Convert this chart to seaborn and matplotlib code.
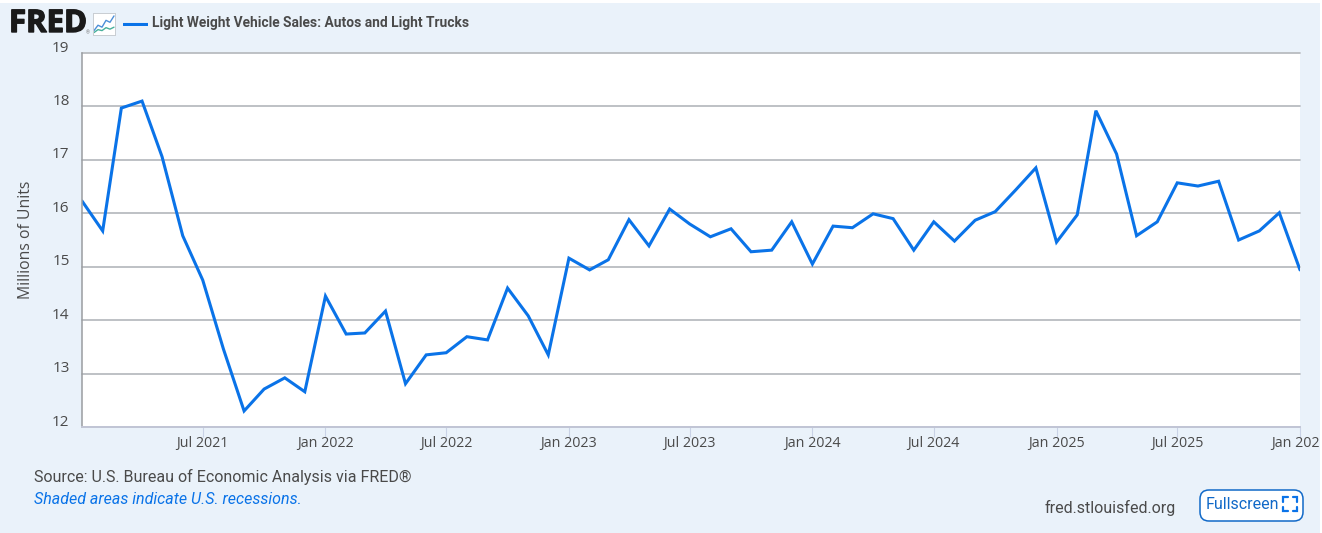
import matplotlib
matplotlib.use("Agg")
import matplotlib.pyplot as plt
import matplotlib.patheffects as pe
from matplotlib.lines import Line2D
from matplotlib.patches import FancyBboxPatch, Rectangle
from matplotlib.transforms import ScaledTranslation
import pandas as pd
import seaborn as sns

W, H = 1322, 533
start_month = "2021-01-01"
sales = [16.23, 15.67, 17.97, 18.10, 17.06, 15.58, 14.75, 13.46, 12.30, 12.71, 12.92, 12.66,
         14.45, 13.74, 13.76, 14.17, 12.81, 13.35, 13.39, 13.69, 13.63, 14.60, 14.08, 13.35,
         15.16, 14.94, 15.13, 15.88, 15.39, 16.08, 15.80, 15.56, 15.71, 15.28, 15.31, 15.84,
         15.05, 15.76, 15.73, 15.99, 15.90, 15.31, 15.84, 15.48, 15.87, 16.03, 16.44, 16.85,
         15.46, 15.97, 17.92, 17.11, 15.58, 15.84, 16.57, 16.51, 16.60, 15.50, 15.67, 16.01,
         14.94]
y_ticks = [12, 13, 14, 15, 16, 17, 18, 19]
x_tick_dates = ["2021-07-01", "2022-01-01", "2022-07-01", "2023-01-01", "2023-07-01", "2024-01-01",
                "2024-07-01", "2025-01-01", "2025-07-01", "2026-01-01"]
x_tick_labels = ["Jul 2021", "Jan 2022", "Jul 2022", "Jan 2023", "Jul 2023", "Jan 2024",
                 "Jul 2024", "Jan 2025", "Jul 2025", "Jan 2026"]
series_name = "Light Weight Vehicle Sales: Autos and Light Trucks"
y_label = "Millions of Units"
source_text = "Source: U.S. Bureau of Economic Analysis via FRED®"
shade_text = "Shaded areas indicate U.S. recessions."
site_text = "fred.stlouisfed.org"
button_text = "Fullscreen"
icon_a = [0.9, 2.0, 1.6, 3.0, 2.6, 3.9]
icon_b = [0.5, 1.1, 0.9, 1.5, 1.2, 1.6]

BG = "#EAF2FA"; BLUE = "#0A73E8"; TXT = "#4A4A4A"; GRID = "#B9BCC0"
sns.set_theme(style="white", font="Roboto")
plt.rcParams["font.family"] = ["Roboto", "DejaVu Sans"]

df = pd.DataFrame({"date": pd.date_range(start_month, periods=len(sales), freq="MS"), "value": sales})

fig = plt.figure(figsize=(W / 100, H / 100), dpi=100, facecolor=BG)
def fx(px): return px / W
def fy(py): return 1 - py / H

fig.add_artist(Rectangle((0, fy(3)), 1, 3 / H, transform=fig.transFigure, color="white", lw=0, zorder=0))
fig.add_artist(Rectangle((fx(1320), 0), 2 / W, 1, transform=fig.transFigure, color="white", lw=0, zorder=10))

ax = fig.add_axes([fx(82), fy(427), (1300 - 82) / W, (427 - 53) / H], facecolor="white")
sns.lineplot(data=df, x="date", y="value", ax=ax, color=BLUE, lw=2.2, solid_joinstyle="miter", legend=False)
ax.set_xlim(df["date"].iloc[0], df["date"].iloc[-1])
ax.set_ylim(12, 19)
ax.set_yticks(y_ticks)
ax.set_xticks(pd.to_datetime(x_tick_dates))
ax.set_xticklabels(x_tick_labels, family=["Open Sans", "DejaVu Sans"])
ax.grid(axis="y", color=GRID, lw=1.3)
for gl in ax.get_ygridlines():
    gl.set_clip_on(False)
ax.set_axisbelow(True)
ax.set_xlabel(""); ax.set_ylabel("")
for s in ["top", "right"]:
    ax.spines[s].set_visible(False)
ax.spines["left"].set_color("#9A9DA1"); ax.spines["left"].set_linewidth(1.1)
ax.spines["bottom"].set_color("#C2C6D6"); ax.spines["bottom"].set_linewidth(1.4)
ax.tick_params(axis="x", length=7.5, width=0.8, color="#C9D2E6", labelsize=10.3, labelcolor=TXT, pad=-1.2, bottom=True)
ax.tick_params(axis="y", length=0, labelsize=11, labelcolor=TXT, pad=14)
offset = ScaledTranslation(7 / 100, 5 / 100, fig.dpi_scale_trans)
for lab in ax.get_yticklabels():
    lab.set_family(["Open Sans", "DejaVu Sans"])
    lab.set_verticalalignment("center")
    lab.set_transform(lab.get_transform() + offset)

fig.text(fx(26), fy(239.5), y_label, rotation=90, ha="center", va="center", fontsize=11.3,
         color=TXT, family=["Open Sans", "DejaVu Sans"])

fig.text(fx(9), fy(24), "FRED", fontsize=22.4, fontweight="bold", color="#1A1A1A", ha="left", va="center",
         family=["Open Sans", "DejaVu Sans"],
         path_effects=[pe.withStroke(linewidth=1.0, foreground="#1A1A1A")])
fig.text(fx(87.5), fy(33), "®", fontsize=3.5, color="#777777", ha="center", va="center")
icon = fig.add_axes([fx(93), fy(35), 22 / W, 22 / H], facecolor="white")
icon.plot(icon_a, color="#4C8FD8", lw=1)
icon.plot(icon_b, color="#48B09B", lw=1)
icon.set_xticks([]); icon.set_yticks([]); icon.set_ylim(0, 4.5)
for s in icon.spines.values():
    s.set_color("#C8CDD2"); s.set_linewidth(0.7)

leg = fig.add_axes([fx(123), fy(26), 25 / W, 4 / H]); leg.axis("off")
leg.axhline(0.5, color=BLUE, lw=2.2)
fig.text(fx(152.5), fy(23), series_name, fontsize=9.95, fontweight="bold", color=TXT, ha="left", va="center")

fig.text(fx(34.5), fy(476.5), source_text, fontsize=11.55, color=TXT, ha="left", va="center")
fig.text(fx(34.5), fy(499.5), shade_text, fontsize=11.55, color=BLUE, style="italic", ha="left", va="center")
fig.text(fx(1045), fy(507.5), site_text, fontsize=11.55, color=TXT, ha="left", va="center")

fig.add_artist(FancyBboxPatch((1200, H - 521), 103, 31, boxstyle="round,pad=0,rounding_size=9",
                              transform=None, fc="white", ec="#1169C8", lw=1.1))
fig.text(fx(1206), fy(504.5), button_text, fontsize=11.55, color="#1169C8", ha="left", va="center")
# The fullscreen symbol is not in any installed family: four corner brackets
L, R, T, B, c = 1283, 1297, 497, 511, 4.5
for x0, y0, dx, dy in [(L, T, 1, 1), (R, T, -1, 1), (L, B, 1, -1), (R, B, -1, -1)]:
    fig.add_artist(Line2D([fx(x0 + dx * c), fx(x0), fx(x0)], [fy(y0), fy(y0), fy(y0 + dy * c)],
                          transform=fig.transFigure, color=BLUE, lw=1.6, solid_joinstyle="miter"))

fig.savefig("out.png", dpi=100, facecolor=BG)
